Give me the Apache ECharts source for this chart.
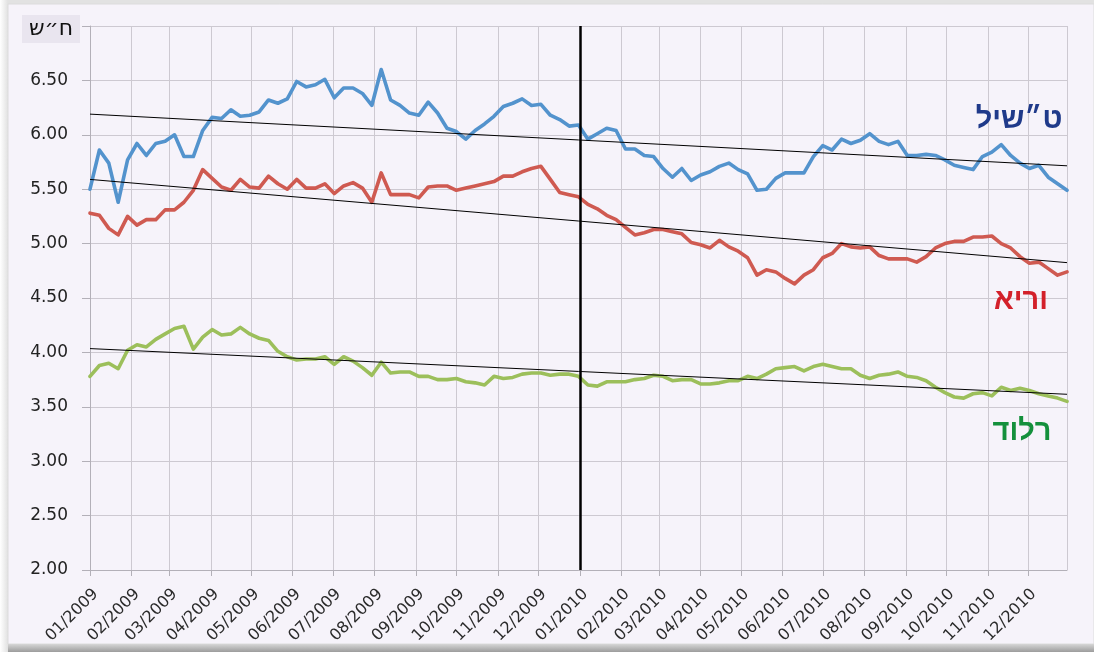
<!DOCTYPE html>
<html>
<head>
<meta charset="utf-8">
<script src="https://cdn.jsdelivr.net/npm/echarts@6/dist/echarts.min.js"></script>
<style>
html,body{margin:0;padding:0;background:#ffffff;}
#chart{width:1094px;height:652px;}
</style>
</head>
<body>
<div id="chart"></div>
<script>
// ---- data ----
const seriesNames = ['ליש״ט', 'אירו', 'דולר'];
const unitLabel = 'ש״ח';
const startDate = [2009, 0, 1];
const endDate = [2010, 11, 30];
const splitDate = [2010, 0, 1];
const stepDays = 7;

const gbp = [5.50,5.86,5.74,5.38,5.77,5.92,5.81,5.92,5.94,6.00,
             5.80,5.80,6.04,6.16,6.15,6.23,6.17,6.18,6.21,6.32,
             6.29,6.33,6.49,6.44,6.46,6.51,6.34,6.43,6.43,6.38,
             6.27,6.60,6.32,6.27,6.20,6.18,6.30,6.20,6.06,6.03,
             5.96,6.04,6.10,6.17,6.26,6.29,6.33,6.27,6.28,6.18,
             6.14,6.08,6.09,5.96,6.01,6.06,6.04,5.87,5.87,5.81,
             5.80,5.69,5.61,5.69,5.58,5.63,5.66,5.71,5.74,5.68,
             5.64,5.49,5.50,5.60,5.65,5.65,5.65,5.80,5.90,5.86,
             5.96,5.92,5.95,6.01,5.94,5.91,5.94,5.81,5.81,5.82,
             5.81,5.77,5.72,5.70,5.68,5.80,5.84,5.91,5.81,5.74,
             5.69,5.72,5.61,5.55,5.49];

const eur = [5.28,5.26,5.14,5.08,5.25,5.17,5.22,5.22,5.31,5.31,
             5.38,5.49,5.68,5.60,5.52,5.49,5.59,5.52,5.51,5.62,
             5.55,5.50,5.59,5.51,5.51,5.55,5.46,5.53,5.56,5.51,
             5.38,5.65,5.45,5.45,5.45,5.42,5.52,5.53,5.53,5.49,
             5.51,5.53,5.55,5.57,5.62,5.62,5.66,5.69,5.71,5.59,
             5.47,5.45,5.43,5.36,5.32,5.26,5.22,5.15,5.08,5.10,
             5.13,5.13,5.11,5.09,5.01,4.99,4.96,5.03,4.97,4.93,
             4.87,4.71,4.76,4.74,4.68,4.63,4.71,4.76,4.87,4.91,
             5.00,4.97,4.96,4.97,4.89,4.86,4.86,4.86,4.83,4.88,
             4.96,5.00,5.02,5.02,5.06,5.06,5.07,5.00,4.96,4.88,
             4.82,4.83,4.77,4.71,4.74];

const usd = [3.78,3.88,3.90,3.85,4.02,4.07,4.05,4.12,4.17,4.22,
             4.24,4.03,4.14,4.21,4.16,4.17,4.23,4.17,4.13,4.11,
             4.01,3.96,3.93,3.94,3.94,3.96,3.89,3.96,3.92,3.86,
             3.79,3.91,3.81,3.82,3.82,3.78,3.78,3.75,3.75,3.76,
             3.73,3.72,3.70,3.78,3.76,3.77,3.80,3.81,3.81,3.79,
             3.80,3.80,3.78,3.70,3.69,3.73,3.73,3.73,3.75,3.76,
             3.79,3.78,3.74,3.75,3.75,3.71,3.71,3.72,3.74,3.74,
             3.78,3.76,3.80,3.85,3.86,3.87,3.83,3.87,3.89,3.87,
             3.85,3.85,3.79,3.76,3.79,3.80,3.82,3.78,3.77,3.74,
             3.68,3.63,3.59,3.58,3.62,3.63,3.60,3.68,3.65,3.67,
             3.65,3.62,3.60,3.58,3.55];

const gbpTrend = [6.19, 5.715];
const eurTrend = [5.59, 4.825];
const usdTrend = [4.035, 3.615];

const yMin = 2, yMax = 7, yStep = 0.5;

// ---- build ----
const t0 = new Date(startDate[0], startDate[1], startDate[2]).getTime();
const t1 = new Date(endDate[0], endDate[1], endDate[2]).getTime();
const tSplit = new Date(splitDate[0], splitDate[1], splitDate[2]).getTime();
const dates = gbp.map((_, i) => new Date(startDate[0], startDate[1], startDate[2] + i * stepDays).getTime());
const pair = arr => arr.map((v, i) => [dates[i], v]);
const trend = tr => [[t0, tr[0]], [t1, tr[1]]];
const pad = n => (n < 10 ? '0' : '') + n;
// the reference lays the Hebrew glyphs out left-to-right
const visualLTR = s => '\u202D' + s + '\u202C';

const colors = ['#5393cd', '#cf5a51', '#9cbf5b'];
const textColors = ['#1f3a8a', '#d3202a', '#14903c'];

function mainLine(name, arr, color) {
  return {
    name: name, type: 'line', data: pair(arr), showSymbol: false, symbol: 'none',
    lineStyle: { color: color, width: 3.6, cap: 'round', join: 'round' },
    z: 3, silent: true
  };
}
function trendLine(tr) {
  return {
    type: 'line', data: trend(tr), showSymbol: false, symbol: 'none',
    lineStyle: { color: '#000', width: 1 }, z: 4, silent: true
  };
}

const axisGray = '#b3b0b8';
const gridGray = '#cdc9d1';
const hebFont = 'bold 29px "Liberation Sans", "DejaVu Sans"';

const option = {
  animation: false,
  backgroundColor: '#ffffff',
  grid: { left: 90, right: 27, top: 26, bottom: 82, containLabel: false },
  xAxis: {
    type: 'time',
    min: t0, max: t1,
    splitNumber: 24,
    minInterval: 28 * 864e5,
    maxInterval: 31 * 864e5,
    axisLine: { show: true, lineStyle: { color: axisGray, width: 1 } },
    axisTick: { show: true, length: 6, lineStyle: { color: axisGray } },
    splitLine: { show: true, lineStyle: { color: gridGray, width: 1 } },
    axisLabel: {
      rotate: 45, margin: 16, fontSize: 16, color: '#2b2b2b', fontFamily: 'DejaVu Sans',
      verticalAlign: 'top',
      hideOverlap: false, showMaxLabel: false,
      formatter: function (v) { const d = new Date(v); return pad(d.getMonth() + 1) + '/' + d.getFullYear(); }
    }
  },
  yAxis: {
    type: 'value', min: yMin, max: yMax, interval: yStep,
    axisLine: { show: true, lineStyle: { color: axisGray, width: 1 } },
    axisTick: { show: true, length: 8, lineStyle: { color: axisGray } },
    splitLine: { show: true, lineStyle: { color: gridGray, width: 1 } },
    axisLabel: {
      margin: 22, fontSize: 17, color: '#222', fontFamily: 'DejaVu Sans',
      formatter: function (v) { return v >= yMax ? '' : v.toFixed(2); }
    }
  },
  graphic: { elements: [
    { type: 'rect', z: -100, shape: { x: 0, y: 0, width: 1094, height: 652 },
      style: { fill: new echarts.graphic.LinearGradient(0, 0, 1, 0, [{offset: 0, color: '#ffffff'}, {offset: 0.007, color: '#e2e2e2'}]) } },
    { type: 'rect', z: -99, shape: { x: 8, y: 4, width: 1086, height: 640 },
      style: { fill: '#f6f3fa', stroke: '#dcdcdc', lineWidth: 1 } },
    { type: 'rect', z: -98, shape: { x: 8, y: 644, width: 1086, height: 8 },
      style: { fill: new echarts.graphic.LinearGradient(0, 0, 0, 1, [{offset: 0, color: '#d6d6d6'}, {offset: 1, color: '#9c9c9c'}]) } },
    { type: 'rect', z: 100, shape: { x: 22, y: 15, width: 58, height: 28 },
      style: { fill: '#e9e5ef' } },
    { type: 'text', z: 101, x: 51, y: 29,
      style: { text: visualLTR(unitLabel), fill: '#111', font: '22px "DejaVu Sans"', align: 'center', verticalAlign: 'middle' } },
    { type: 'text', z: 101, x: 1019, y: 120,
      style: { text: visualLTR(seriesNames[0]), fill: textColors[0], font: hebFont, align: 'center', verticalAlign: 'middle' } },
    { type: 'text', z: 101, x: 1021, y: 301,
      style: { text: visualLTR(seriesNames[1]), fill: textColors[1], font: hebFont, align: 'center', verticalAlign: 'middle' } },
    { type: 'text', z: 101, x: 1022, y: 432,
      style: { text: visualLTR(seriesNames[2]), fill: textColors[2], font: hebFont, align: 'center', verticalAlign: 'middle' } }
  ] },
  series: [
    mainLine(seriesNames[0], gbp, colors[0]),
    mainLine(seriesNames[1], eur, colors[1]),
    mainLine(seriesNames[2], usd, colors[2]),
    trendLine(gbpTrend),
    trendLine(eurTrend),
    trendLine(usdTrend),
    {
      type: 'line', data: [], silent: true,
      markLine: {
        silent: true, symbol: ['none', 'none'], label: { show: false },
        lineStyle: { color: '#000', width: 2.5, type: 'solid' },
        data: [{ xAxis: tSplit }]
      }, z: 5
    }
  ]
};

const chart = echarts.init(document.getElementById('chart'), null, { renderer: 'canvas' });
chart.setOption(option);
</script>
</body>
</html>
